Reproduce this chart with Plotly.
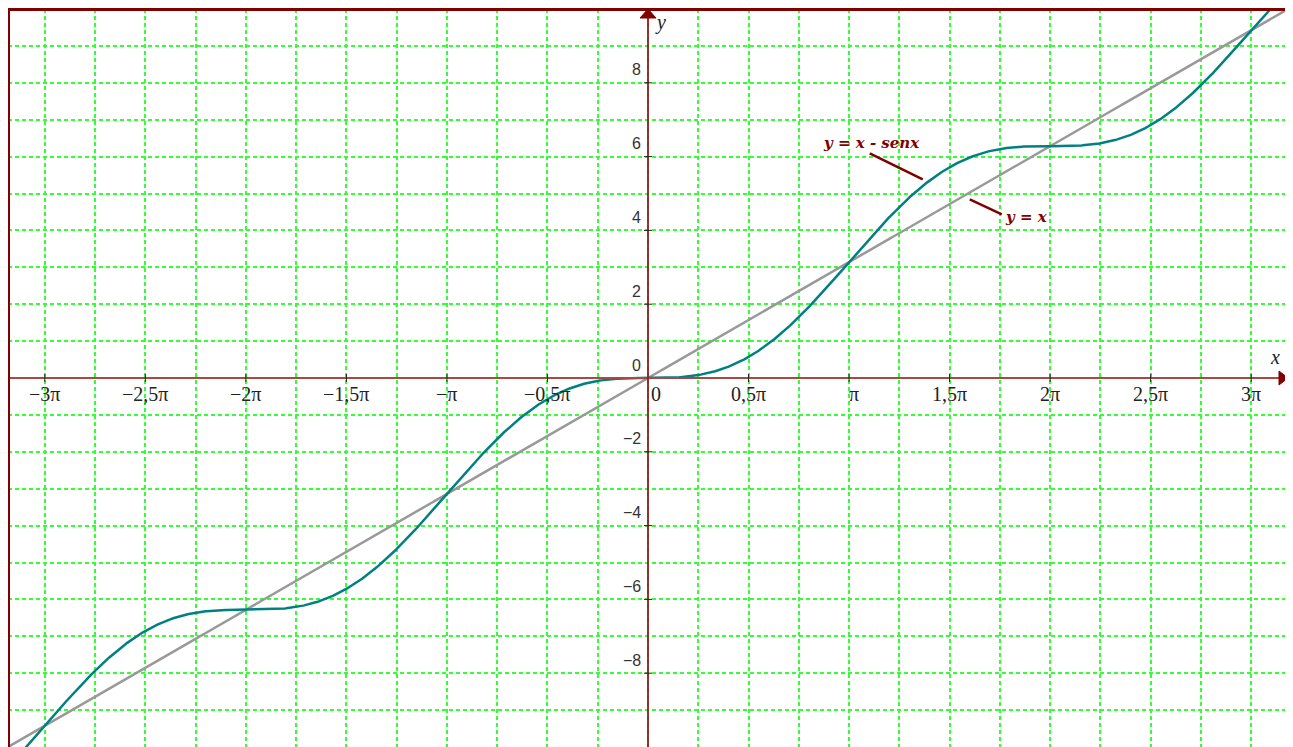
import numpy as np
import plotly.graph_objects as go

PI = np.pi

# ---- data ----
x_ticks_mult = [-3, -2.5, -2, -1.5, -1, -0.5, 0, 0.5, 1, 1.5, 2, 2.5, 3]   # multiples of pi
x_tick_labels = ["−3π", "−2,5π", "−2π", "−1,5π", "−π", "−0,5π", "0",
                 "0,5π", "π", "1,5π", "2π", "2,5π", "3π"]
y_ticks = [-8, -6, -4, -2, 0, 2, 4, 6, 8]
y_tick_labels = ["−8", "−6", "−4", "−2", "0", "2", "4", "6", "8"]
x_grid_mult = [k / 4 for k in range(-12, 13)]      # vertical grid every pi/4
y_grid = list(range(-9, 10))                       # horizontal grid every 1

# function samples: y = x and y = x - sen x
x_vals = np.linspace(-10.5, 10.5, 1201)
y_line = x_vals
y_curve = x_vals - np.sin(x_vals)

# label annotations (data coords)
label_curve = dict(text="y = x - senx", x=3.49, y=6.36)
label_line = dict(text="y = x", x=5.91, y=4.36)
pointer_curve = [(3.465, 6.09), (4.293, 5.385)]
pointer_line = [(5.028, 4.843), (5.528, 4.436)]

DARKRED = "#800000"
AXISRED = "#951c1c"

fig = go.Figure()
fig.add_trace(go.Scatter(x=x_vals, y=y_line, mode="lines",
                         line=dict(color="#999999", width=2.5), hoverinfo="skip"))
fig.add_trace(go.Scatter(x=x_vals, y=y_curve, mode="lines",
                         line=dict(color="#008080", width=2.5), hoverinfo="skip"))

shapes = []
# axes lines through origin
shapes.append(dict(type="line", xref="x", yref="y", x0=-10, x1=10, y0=0, y1=0,
                   line=dict(color="#a84848", width=2), layer="above"))
shapes.append(dict(type="line", xref="x", yref="y", x0=0, x1=0, y0=-10, y1=10,
                   line=dict(color=AXISRED, width=1.8), layer="above"))
# arrowheads
shapes.append(dict(type="path", xref="x", yref="y", xsizemode="pixel", ysizemode="pixel",
                   xanchor=10, yanchor=0, path="M 0 0 L -9 7 L -9 -7 Z",
                   fillcolor=DARKRED, line=dict(color=DARKRED, width=1), layer="above"))
shapes.append(dict(type="path", xref="x", yref="y", xsizemode="pixel", ysizemode="pixel",
                   xanchor=0, yanchor=10, path="M 0 0 L -8 -9 L 8 -9 Z",
                   fillcolor=DARKRED, line=dict(color=DARKRED, width=1), layer="above"))
# tick marks
for m in x_ticks_mult:
    if m == 0:
        continue
    shapes.append(dict(type="line", xref="x", yref="y", ysizemode="pixel", yanchor=0,
                       x0=m * PI, x1=m * PI, y0=-4, y1=4,
                       line=dict(color="#222222", width=1), layer="above"))
for v in y_ticks:
    if v == 0:
        continue
    shapes.append(dict(type="line", xref="x", yref="y", xsizemode="pixel", xanchor=0,
                       x0=-4, x1=4, y0=v, y1=v,
                       line=dict(color="#222222", width=1), layer="above"))
# pointer lines
for seg in (pointer_curve, pointer_line):
    shapes.append(dict(type="line", xref="x", yref="y",
                       x0=seg[0][0], y0=seg[0][1], x1=seg[1][0], y1=seg[1][1],
                       line=dict(color=DARKRED, width=2.5), layer="above"))
# frame (top, left, right)
for (x0, y0, x1, y1) in [(0, 1, 1, 1), (0, 0, 0, 1), (1, 0, 1, 1)]:
    shapes.append(dict(type="line", xref="paper", yref="paper", x0=x0, y0=y0, x1=x1, y1=y1,
                       line=dict(color=DARKRED, width=4), layer="above"))

annotations = []
for m, lab in zip(x_ticks_mult, x_tick_labels):
    annotations.append(dict(x=m * PI, y=0, xref="x", yref="y", text=lab, showarrow=False,
                            xanchor="left" if m == 0 else "center", yanchor="middle",
                            xshift=1 if m == 0 else (5 if m == 1 else 0), yshift=-16,
                            font=dict(family="Liberation Serif", size=20, color="#222222")))
for v, lab in zip(y_ticks, y_tick_labels):
    annotations.append(dict(x=0, y=v, xref="x", yref="y", text=lab, showarrow=False,
                            xanchor="right", yanchor="middle", xshift=-5, yshift=13,
                            font=dict(family="Liberation Sans", size=16, color="#333333")))
annotations.append(dict(x=0, y=10, xref="x", yref="y", text="<i>y</i>", showarrow=False,
                        xanchor="left", yanchor="top", xshift=5, yshift=0,
                        font=dict(family="Liberation Serif", size=20, color="#222222")))
annotations.append(dict(x=10, y=0, xref="x", yref="y", text="<i>x</i>", showarrow=False,
                        xanchor="right", yanchor="bottom", xshift=-6, yshift=8,
                        font=dict(family="Liberation Serif", size=20, color="#222222")))
for lab in (label_curve, label_line):
    annotations.append(dict(x=lab["x"], y=lab["y"], xref="x", yref="y",
                            text="<b><i>" + lab["text"] + "</i></b>", showarrow=False,
                            xanchor="center", yanchor="middle",
                            font=dict(family="DejaVu Serif", size=15, color=DARKRED)))

grid_style = dict(showgrid=True, gridcolor="#33ff33", gridwidth=2, griddash="4px,3px",
                  zeroline=False, showticklabels=False, ticks="", showline=False)

# the page body adds an 8px margin on the left and top
fig.update_layout(
    width=1285, height=739,
    margin=dict(l=0, r=5, t=1, b=0),
    paper_bgcolor="white", plot_bgcolor="white",
    showlegend=False,
    xaxis=dict(range=[-10, 10], tickmode="array", tickvals=[m * PI for m in x_grid_mult],
               **grid_style),
    yaxis=dict(range=[-10, 10], tickmode="array", tickvals=y_grid, **grid_style),
    shapes=shapes,
    annotations=annotations,
)

fig.write_html("out.html")
